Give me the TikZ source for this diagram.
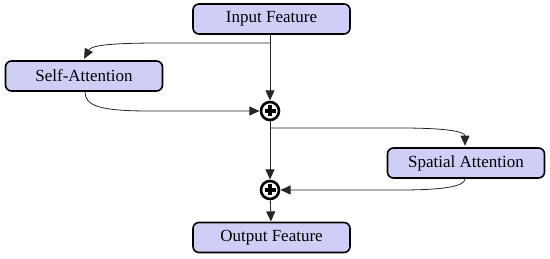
\documentclass[tikz,border=0pt]{standalone}
\usepackage{fontspec}
\setmainfont{Liberation Serif}
\usetikzlibrary{arrows.meta}
\definecolor{boxfill}{RGB}{206,206,246}
\tikzset{
  box/.style={draw=black, line width=1.6pt, fill=boxfill, rounded corners=6pt,
    minimum width=157pt, minimum height=30pt, inner sep=0pt, font=\fontsize{17}{19}\selectfont},
  sumnode/.style={circle, draw=black, line width=2.6pt, fill=white, minimum size=18pt, inner sep=0pt,
    path picture={\draw[line width=3.4pt] ([xshift=-5.5pt]path picture bounding box.center) -- ([xshift=5.5pt]path picture bounding box.center);
                  \draw[line width=3.4pt] ([yshift=-5.5pt]path picture bounding box.center) -- ([yshift=5.5pt]path picture bounding box.center);}},
  conn/.style={draw=black!85, line width=0.8pt},
  arr/.style={conn, -{Triangle[length=10pt,width=9pt]}, shorten >=0.3pt},
}
\begin{document}
\begin{tikzpicture}[x=1pt,y=-1pt]
\useasboundingbox (0,0) rectangle (550,259);
\node[box] (in) at (271.5,19) {Input Feature};
\node[box] (sa) at (84,76) {Self-Attention};
\node[box] (sp) at (466,163) {Spatial Attention};
\node[box] (out) at (271.5,237.5) {Output Feature};
\node[sumnode] (p1) at (270,111) {};
\node[sumnode] (p2) at (270,190) {};
\coordinate (b1) at (270,43);
\coordinate (b2) at (270,128);
\draw[arr] (in.south -| p1) -- (p1);
\draw[arr] (b1) -- (160,43) .. controls (105,43) and (91,46) .. (sa.north |- 0,59) coordinate (sat);
\draw[arr] (sa.south -| 85,0) .. controls (85,106) and (100,111) .. (150,111) -- (p1);
\draw[arr] (p1) -- (p2);
\draw[arr] (b2) -- (400,128) .. controls (450,128) and (465,132) .. (465,146);
\draw[arr] (sp.south -| 465,0) .. controls (465,187) and (440,190) .. (400,190) -- (p2);
\draw[arr] (p2) -- (out);
\end{tikzpicture}
\end{document}
